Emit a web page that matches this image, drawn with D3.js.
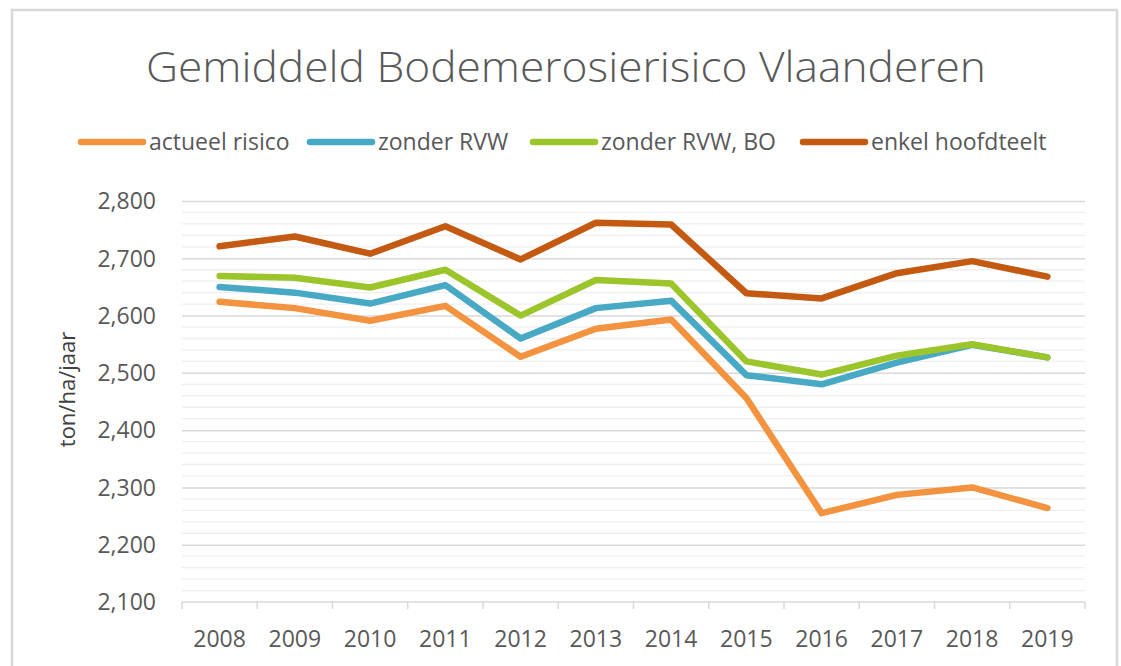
<!DOCTYPE html>
<html>
<head>
<meta charset="utf-8">
<script src="https://cdn.jsdelivr.net/npm/d3@7"></script>
<style>
  html, body { margin: 0; padding: 0; background: #fff; }
  svg { display: block; font-family: "Open Sans", "Liberation Sans", sans-serif; }
</style>
</head>
<body>
<div id="chart"></div>
<script>
// values (ton/ha/jaar)
const years = ['2008','2009','2010','2011','2012','2013','2014','2015','2016','2017','2018','2019'];
const actueel   = [2624, 2613, 2591, 2617, 2528, 2577, 2593, 2456, 2255, 2287, 2300, 2264];
const zonderRVW = [2650, 2640, 2621, 2653, 2560, 2613, 2626, 2496, 2480, 2518, 2549, 2527];
const zonderBO  = [2669, 2666, 2649, 2680, 2600, 2662, 2656, 2520, 2497, 2530, 2550, 2527];
const hoofdteelt= [2721, 2738, 2708, 2756, 2698, 2762, 2759, 2639, 2630, 2674, 2695, 2668];
const seriesNames = ['actueel risico', 'zonder RVW', 'zonder RVW, BO', 'enkel hoofdteelt'];
const yTicks = [2100, 2200, 2300, 2400, 2500, 2600, 2700, 2800];

const W = 1121, H = 666;
const colors = ['#F4933F', '#48A9C5', '#9CC42B', '#C45A11'];
const seriesVals = [actueel, zonderRVW, zonderBO, hoofdteelt];

const svg = d3.select('#chart').append('svg').attr('width', W).attr('height', H);

// outer chart frame
svg.append('rect').attr('x', 12).attr('y', 10).attr('width', 1105).attr('height', 660)
  .attr('fill', '#fff').attr('stroke', '#d9d9d9').attr('stroke-width', 2.5);

const m = { left: 182, right: 1085, top: 201, bottom: 602 };
const x = d3.scaleBand().domain(years).range([m.left, m.right]);
const y = d3.scaleLinear().domain([2100, 2800]).range([m.bottom, m.top]);

// minor gridlines every 20
const minor = d3.range(2120, 2800, 20).filter(v => v % 100 !== 0);
svg.append('g').selectAll('line').data(minor).join('line')
  .attr('x1', m.left).attr('x2', m.right)
  .attr('y1', d => y(d)).attr('y2', d => y(d))
  .attr('stroke', '#efefef').attr('stroke-width', 1.3);

// major gridlines
svg.append('g').call(d3.axisLeft(y).tickValues(yTicks.slice(1)).tickSize(-(m.right - m.left)).tickFormat(''))
  .attr('transform', `translate(${m.left},0)`)
  .call(g => g.select('.domain').remove())
  .call(g => g.selectAll('line').attr('stroke', '#d9d9d9').attr('stroke-width', 1.5));

// y tick labels
svg.append('g').selectAll('text').data(yTicks).join('text')
  .attr('x', 156).attr('y', d => y(d)).attr('dy', '0.36em')
  .attr('text-anchor', 'end').attr('fill', '#595959').style('font-size', '23px')
  .text(d => d3.format(',')(d));

// x axis line with ticks at category boundaries
const xa = svg.append('g');
xa.append('line').attr('x1', m.left).attr('x2', m.right).attr('y1', m.bottom).attr('y2', m.bottom)
  .attr('stroke', '#d9d9d9').attr('stroke-width', 1.5);
xa.selectAll('line.tk').data(d3.range(years.length + 1)).join('line').attr('class', 'tk')
  .attr('x1', i => m.left + i * x.step()).attr('x2', i => m.left + i * x.step())
  .attr('y1', m.bottom).attr('y2', m.bottom + 7)
  .attr('stroke', '#d9d9d9').attr('stroke-width', 1.5);
xa.selectAll('text').data(years).join('text')
  .attr('x', d => x(d) + x.bandwidth() / 2).attr('y', 647)
  .attr('text-anchor', 'middle').attr('fill', '#595959').style('font-size', '23px')
  .text(d => d);

// y axis title
svg.append('text').attr('transform', `translate(75,${(m.top + m.bottom) / 2 - 12}) rotate(-90)`)
  .attr('text-anchor', 'middle').attr('fill', '#404040').style('font-size', '22px')
  .text('ton/ha/jaar');

// series lines
const line = d3.line().x((d, i) => x(years[i]) + x.bandwidth() / 2).y(d => y(d));
svg.append('g').selectAll('path').data(seriesVals).join('path')
  .attr('d', line).attr('fill', 'none')
  .attr('stroke', (d, i) => colors[i]).attr('stroke-width', 6.5)
  .attr('stroke-linejoin', 'round').attr('stroke-linecap', 'round');

// title
svg.append('text').attr('x', 566).attr('y', 82).attr('text-anchor', 'middle')
  .attr('fill', '#595959').style('font-size', '43px').style('font-weight', 300)
  .attr('textLength', 840).attr('lengthAdjust', 'spacingAndGlyphs')
  .text('Gemiddeld Bodemerosierisico Vlaanderen');

// legend
const legX = [81, 310, 533, 803];
const lg = svg.append('g').selectAll('g').data(seriesNames).join('g')
  .attr('transform', (d, i) => `translate(${legX[i]},142)`);
lg.append('line').attr('x1', 0).attr('x2', 62).attr('y1', 0).attr('y2', 0)
  .attr('stroke', (d, i) => colors[i]).attr('stroke-width', 6.5).attr('stroke-linecap', 'round');
lg.append('text').attr('x', 68).attr('y', 0).attr('dy', '0.35em')
  .attr('fill', '#595959').style('font-size', '23px').text(d => d);
</script>
</body>
</html>
